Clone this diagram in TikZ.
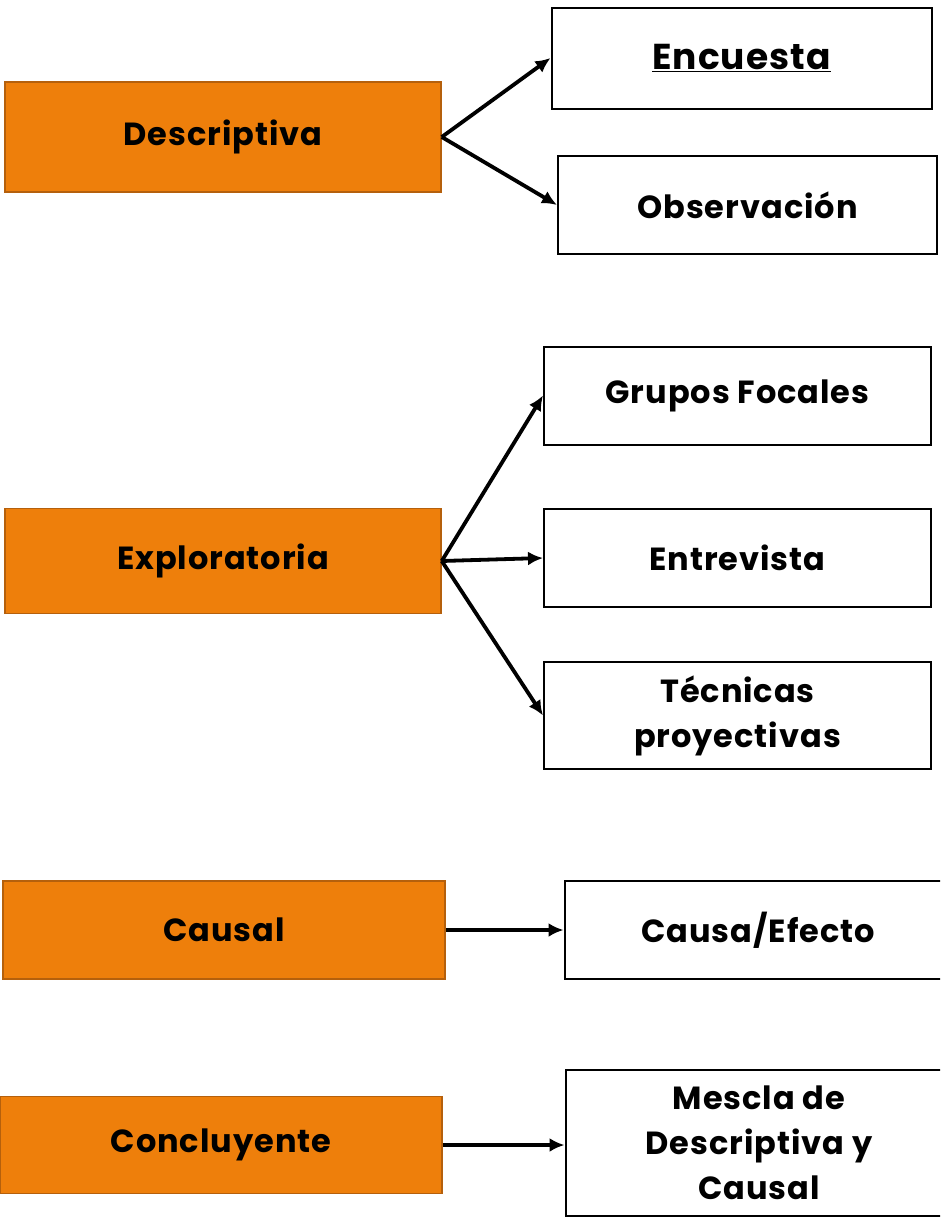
\documentclass[tikz,border=0pt]{standalone}
\usepackage{fontspec}
\setmainfont{Poppins}[LetterSpace=3]
\usepackage{tikz}
\usetikzlibrary{arrows.meta,positioning}
\definecolor{tipoorange}{HTML}{EE7F0B}
\definecolor{tipoedge}{HTML}{B5600C}

\begin{document}
\begin{tikzpicture}[x=1pt,y=-1pt,
  tipo/.style={draw=tipoedge,fill=tipoorange,line width=1.5pt,
    minimum width=436pt,minimum height=110pt,inner sep=0pt,
    font=\fontsize{32}{38}\selectfont\bfseries},
  tecnica/.style={draw=black,fill=white,line width=2pt,
    minimum width=387pt,minimum height=98pt,inner sep=0pt,align=center,
    font=\fontsize{32}{45}\selectfont\bfseries},
  link/.style={draw=black,line width=3.8pt,-{Latex[length=15pt,width=14pt]}}
]
  \useasboundingbox (0,0) rectangle (940,1218);
  \clip (0,0) rectangle (940,1218);
  % tipos de investigacion
  \node[tipo] (desc) at (223,137) {Descriptiva};
  \node[tipo,minimum height=105pt] (expl) at (223,561) {Exploratoria};
  \node[tipo,minimum width=442pt,minimum height=98pt] (caus) at (224,930) {Causal};
  \node[tipo,minimum width=442pt,minimum height=97pt] (conc) at (221,1145) {Concluyente};
  % tecnicas
  \node[tecnica,minimum width=380pt,minimum height=101pt,
    font=\fontsize{36}{40}\selectfont\bfseries] (enc) at (741.5,58) {\underline{Encuesta}};
  \node[tecnica,minimum width=379pt] (obs) at (747.5,205) {Observación};
  \node[tecnica] (grup) at (737.5,395.5) {Grupos Focales};
  \node[tecnica] (entr) at (737.5,558) {Entrevista};
  \node[tecnica,minimum height=107pt] (tecp) at (737.5,715.5) {Técnicas\\proyectivas};
  \node[tecnica] (cauef) at (758,930) {Causa/Efecto};
  \node[tecnica,minimum height=146pt] (mesc) at (759,1143) {Mescla de\\Descriptiva y\\Causal};
  % conexiones
  \draw[link] (desc.east) -- (enc.west);
  \draw[link] (desc.east) -- (obs.west);
  \draw[link] (expl.east) -- (grup.west);
  \draw[link] (expl.east) -- (entr.west);
  \draw[link] (expl.east) -- (tecp.west);
  \draw[link] (caus.east) -- (cauef.west);
  \draw[link] (conc.east) -- (conc.east -| mesc.west);
\end{tikzpicture}
\end{document}
